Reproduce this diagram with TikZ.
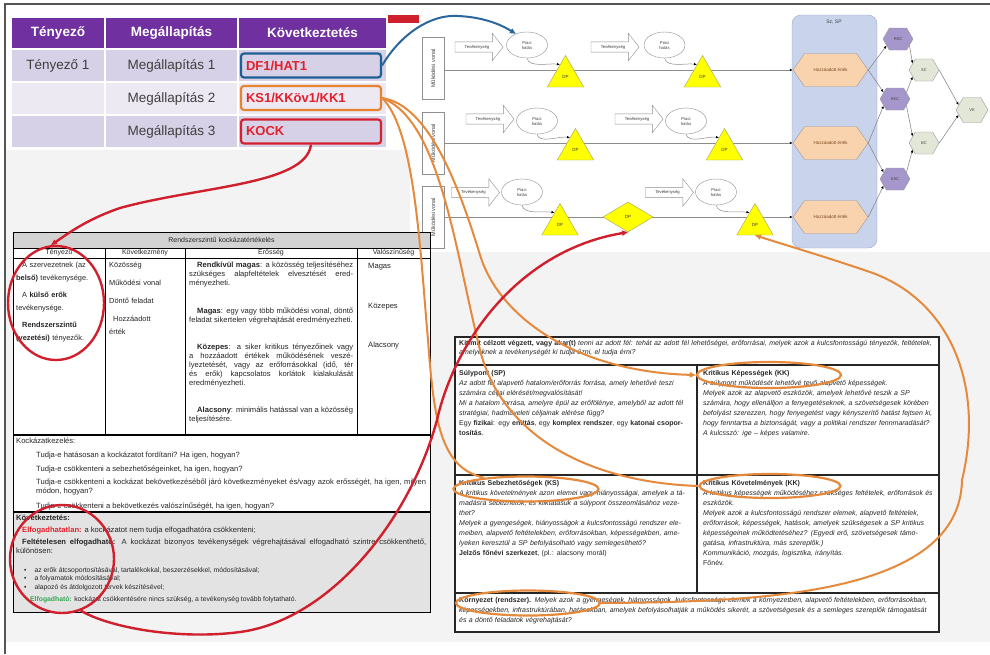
\documentclass[tikz,border=0pt]{standalone}
\usepackage{fontspec}
\setmainfont{Liberation Sans}
\usetikzlibrary{shapes.geometric,shapes.arrows,shapes.symbols,calc,arrows.meta}
\pgfdeclarelayer{paper}
\pgfdeclarelayer{wires}
\pgfsetlayers{paper,wires,main}

\definecolor{hdrpurple}{HTML}{7030A0}
\definecolor{rowdark}{HTML}{D6D1E6}
\definecolor{rowlight}{HTML}{ECE9F2}
\definecolor{txtgray}{HTML}{3F3F3F}
\definecolor{txtdark}{HTML}{262626}
\definecolor{boxblue}{HTML}{1F5F96}
\definecolor{boxorange}{HTML}{E5832F}
\definecolor{boxred}{HTML}{D42132}
\definecolor{txtred}{HTML}{E3202C}
\definecolor{annred}{HTML}{D0202E}
\definecolor{annorange}{HTML}{E58A3C}
\definecolor{annblue}{HTML}{2C679C}
\definecolor{panelblue}{HTML}{C9D3EC}
\definecolor{panelborder}{HTML}{9BA8CC}
\definecolor{peach}{HTML}{F8D3AE}
\definecolor{hexpurple}{HTML}{A596CB}
\definecolor{hexgreen}{HTML}{E3E7D8}
\definecolor{hexedge}{HTML}{9A9A9A}
\definecolor{dpyellow}{HTML}{FFFF00}
\definecolor{dpedge}{HTML}{A0A060}
\definecolor{linegray}{HTML}{8C8C8C}
\definecolor{arrowedge}{HTML}{8F8F8F}
\definecolor{slidegray}{HTML}{F3F3F3}
\definecolor{cellgray}{HTML}{E3E3E3}
\definecolor{titlegray}{HTML}{D3D3D3}
\definecolor{greentxt}{HTML}{2FA84F}
\definecolor{framegray}{HTML}{555555}
\definecolor{hextxt}{HTML}{7A4A20}

\newcommand{\fsz}[2]{\fontsize{#1}{#2}\selectfont}

\tikzset{
  headcell/.style={fill=hdrpurple, text=white, font=\fsz{13.5}{15}\bfseries, inner sep=0, minimum height=30pt},
  rowcell/.style={text=txtgray, font=\fsz{13.5}{15}, inner sep=0, minimum height=31pt},
  concl/.style={draw=#1, line width=2.2pt, rounded corners=3pt, minimum width=140pt, minimum height=24pt,
    text width=130pt, inner xsep=5pt, inner ysep=0pt, align=left, text=txtred, font=\fsz{13}{15}\bfseries},
  lanebox/.style={draw=arrowedge, fill=white, rotate=90, minimum width=62pt, minimum height=22pt,
    inner sep=0, font=\fsz{5.5}{6}, text=txtgray},
  actarrow/.style={single arrow, draw=arrowedge, fill=white, minimum height=48pt, single arrow head extend=8.5pt,
    single arrow tip angle=104, inner xsep=1pt, inner ysep=3pt, font=\fsz{4.2}{5}, text=txtgray},
  effect/.style={ellipse, draw=arrowedge, fill=white, minimum width=41pt, minimum height=26pt, inner sep=0,
    align=center, font=\fsz{4.2}{5}, text=txtgray},
  dptri/.style={regular polygon, regular polygon sides=3, draw=dpedge, fill=dpyellow, minimum size=42pt,
    inner sep=0, font=\fsz{4.5}{5}, text=txtgray},
  dpdia/.style={diamond, draw=dpedge, fill=dpyellow, minimum width=50pt, minimum height=30pt, inner sep=0,
    font=\fsz{4.5}{5}, text=txtgray},
  valhex/.style={signal, signal to=east and west, signal pointer angle=110, draw=hexedge, fill=peach,
    minimum width=75pt, minimum height=33pt, inner sep=1pt, font=\fsz{4.5}{5}, text=hextxt},
  smallhex/.style={signal, signal to=east and west, signal pointer angle=120, draw=hexedge, fill=#1,
    minimum width=30pt, minimum height=22pt, inner sep=0, font=\fsz{4}{5}, text=txtgray},
  panel/.style={rounded corners=9pt, fill=panelblue, draw=panelborder, minimum width=85pt, minimum height=233pt},
  laneline/.style={draw=linegray, line width=0.8pt, -{Latex[length=3pt,width=2.6pt,color=black]}},
  thinlink/.style={draw=linegray, line width=0.5pt, -{Latex[length=3pt,width=2.6pt,color=black]}},
  netlink/.style={draw=linegray, line width=0.6pt, -{Latex[length=3pt,width=2.6pt,color=black]}},
  tabtxt/.style={anchor=north west, inner sep=0, align=left, font=\fsz{7.6}{8.8}, text=txtdark},
  cellnote/.style={anchor=north west, inner sep=0, align=left, font=\fsz{7}{10}, text=txtdark},
  lineitem/.style={anchor=west, inner sep=0, font=\fsz{7.6}{8.8}, text=txtdark},
  oval/.style={ellipse, draw=annorange, line width=2.2pt, inner sep=0},
  redring/.style={ellipse, draw=annred, line width=2.4pt, inner sep=0},
  orarc/.style={draw=annorange, line width=2pt},
  redarc/.style={draw=annred, line width=2.4pt},
  bluearc/.style={draw=annblue, line width=2pt},
  annotip/.style={-{Triangle[length=6pt,width=5pt]}}
}

\begin{document}
\begin{tikzpicture}[x=1pt,y=-1pt]
\useasboundingbox (0,0) rectangle (990,654);

% ---------- paper and panel ----------
\begin{pgfonlayer}{paper}
  \fill[white] (0,0) rectangle (990,654);
  \fill[slidegray] (6,150) rectangle (410,252);
  \fill[slidegray] (6,252) rectangle (990,642);
  \node[panel] (SPpanel) at (834.5,131.5) {};
\end{pgfonlayer}
\draw[framegray, line width=2pt] (5,654) -- (5,4) -- (990,4);

% ---------- factor / finding / conclusion table ----------
\node[headcell, minimum width=92pt]  (hT) at (58,33)    {Tényező};
\node[headcell, minimum width=131pt] (hM) at (171.5,33) {Megállapítás};
\node[headcell, minimum width=147pt] (hK) at (312.5,33) {Következtetés};

\node[rowcell, fill=rowdark,  minimum width=92pt]  (r1a) at (58,65.5)    {Tényező 1};
\node[rowcell, fill=rowdark,  minimum width=131pt] (r1b) at (171.5,65.5) {Megállapítás 1};
\node[rowcell, fill=rowdark,  minimum width=147pt] (r1c) at (312.5,65.5) {};
\node[rowcell, fill=rowlight, minimum width=92pt]  (r2a) at (58,98.5)    {};
\node[rowcell, fill=rowlight, minimum width=131pt] (r2b) at (171.5,98.5) {Megállapítás 2};
\node[rowcell, fill=rowlight, minimum width=147pt] (r2c) at (312.5,98.5) {};
\node[rowcell, fill=rowdark,  minimum width=92pt]  (r3a) at (58,131.5)    {};
\node[rowcell, fill=rowdark,  minimum width=131pt] (r3b) at (171.5,131.5) {Megállapítás 3};
\node[rowcell, fill=rowdark,  minimum width=147pt] (r3c) at (312.5,131.5) {};

\node[concl=boxblue,   fill=rowdark]  (df)   at (311,65.5)  {DF1/HAT1};
\node[concl=boxorange, fill=rowlight] (ks)   at (311,98)    {KS1/KKöv1/KK1};
\node[concl=boxred,    fill=rowdark]  (kock) at (311,131.5) {KOCK};
\fill[annred] (388,15) rectangle (419,23);

% ---------- lines of operation ----------
\node[lanebox] (L1) at (433,68.5) {Működési vonal};
\node[lanebox] (L2) at (433,143)  {Működési vonal};
\node[lanebox] (L3) at (433,217)  {Működési vonal};

\node[valhex] (O1) at (830.5,70)  {Hozzáadott érték};
\node[valhex] (O2) at (830.5,143) {Hozzáadott érték};
\node[valhex] (O3) at (830.5,217) {Hozzáadott érték};
\node[font=\fsz{5}{6}, text=txtgray] (SPlabel) at (834,22) {Sz, SP};

\node[smallhex=hexpurple] (P1) at (898,39)  {RSC};
\node[smallhex=hexpurple] (P2) at (895,99)  {KKC};
\node[smallhex=hexpurple] (P3) at (895,179) {KSC};
\node[smallhex=hexgreen]  (G1) at (924,70)  {SC};
\node[smallhex=hexgreen]  (G2) at (924,143) {BC};
\node[smallhex=hexgreen, minimum width=32pt, minimum height=25pt] (VK) at (972,110) {VK};

% lane 1
\node[actarrow] (a11) at (477,47)    {Tevékenység};
\node[effect]   (e11) at (527,45)    {Piaci\\hatás};
\node[dptri]    (t11) at (565.5,76.5) {DP};
\node[actarrow] (a12) at (613,47)    {Tevékenység};
\node[effect]   (e12) at (664.5,45)  {Piaci\\hatás};
\node[dptri]    (t12) at (702.5,76.5) {DP};
% lane 2
\node[actarrow] (a21) at (488,119)   {Tevékenység};
\node[effect]   (e21) at (537,121)   {Piaci\\hatás};
\node[dptri]    (t21) at (575.5,149.5) {DP};
\node[actarrow] (a22) at (637,119)   {Tevékenység};
\node[effect]   (e22) at (686,121)   {Piaci\\hatás};
\node[dptri]    (t22) at (724.5,149.5) {DP};
% lane 3
\node[actarrow] (a31) at (473.5,192.5) {Tevékenység};
\node[effect]   (e31) at (522,192)   {Piaci\\hatás};
\node[dptri]    (t31) at (560,224.5) {DP};
\node[dpdia]    (dia) at (628,217)   {DP};
\node[actarrow] (a32) at (667.5,192.5) {Tevékenység};
\node[effect]   (e32) at (716,192)   {Piaci\\hatás};
\node[dptri]    (t32) at (755,224.5) {DP};

\begin{pgfonlayer}{wires}
  \draw[laneline] (L1.south |- O1.west) -- (O1.west);
  \draw[laneline] (L2.south |- O2.west) -- (O2.west);
  \draw[laneline] (L3.south |- O3.west) -- (O3.west);
\end{pgfonlayer}

\foreach \e/\t in {e11/t11,e12/t12,e21/t21,e22/t22,e31/t31,e32/t32}
  \draw[thinlink] (\e.south) .. controls +(2,10) and +(-10,-2) .. ($(\t.corner 1)!0.3!(\t.corner 2)$);

\draw[netlink] (O1.east) -- (P1.210);
\draw[netlink] (O1.east) -- (P2.150);
\draw[netlink] (O2.east) -- (P2.210);
\draw[netlink] (O2.east) -- (P3.150);
\draw[netlink] (O3.east) -- (P3.210);
\draw[netlink] (P1.330) -- (G1.150);
\draw[netlink] (P2.30)  -- (G1.210);
\draw[netlink] (P2.330) -- (G2.150);
\draw[netlink] (P3.30)  -- (G2.210);
\draw[netlink] (G1.east) -- (VK.160);
\draw[netlink] (G2.east) -- (VK.200);

% ---------- risk assessment sheet ----------
\fill[white] (13,232) rectangle (430,512);
\fill[titlegray] (13,232) rectangle (430,248);
\fill[cellgray] (13,512) rectangle (430,612);
\draw[black, line width=0.8pt] (13,232) rectangle (430,612);
\draw[black, line width=0.6pt] (13,248) -- (430,248) (13,258) -- (430,258);
\draw[black, line width=0.8pt] (105,248) -- (105,435) (185,248) -- (185,435) (357,248) -- (357,435);
\draw[black, line width=1.6pt] (13,435) -- (430,435) (13,512) -- (430,512);

\node[font=\fsz{7}{8}, text=txtdark] (rtitle) at (221.5,240) {Rendszerszintű kockázatértékelés};
\node[font=\fsz{7}{8}, text=txtdark] (rh1) at (59,253)    {Tényező};
\node[font=\fsz{7}{8}, text=txtdark] (rh2) at (145,253)   {Következmény};
\node[font=\fsz{7}{8}, text=txtdark] (rh3) at (271,253)   {Erősség};
\node[font=\fsz{7}{8}, text=txtdark] (rh4) at (393.5,253) {Valószínűség};

\node[tabtxt, text width=86pt, font=\fsz{7.4}{12.5}] (rc1) at (16,262)
  {\hspace*{6pt}A szervezetnek (az\\ \textbf{belső)} tevékenysége.\\[5pt]
   \hspace*{6pt}A \textbf{külső erők}\\ tevékenysége.\\[5pt]
   \hspace*{6pt}\textbf{Rendszerszintű}\\ \textbf{(vezetési)} tényezők.};
\node[tabtxt, text width=74pt, font=\fsz{7.4}{13}] (rc2) at (109,262)
  {Közösség\\[5pt] Működési vonal\\[5pt] Döntő feladat\\[5pt] \hspace*{4pt}Hozzáadott\\érték};
\node[tabtxt, text width=164pt, align=justify] (rc3) at (189,262)
  {\hspace*{8pt}\textbf{Rendkívül magas}: a közösség teljesítéséhez szükséges alapfeltételek elvesztését eredményezheti.\par\vspace{19pt}
   \hspace*{8pt}\textbf{Magas}: egy vagy több működési vonal, döntő feladat sikertelen végrehajtását eredményezheti.\par\vspace{19pt}
   \hspace*{8pt}\textbf{Közepes}: a siker kritikus tényezőinek vagy a hozzáadott értékek működésének veszélyeztetését, vagy az erőforrásokkal (idő, tér és erők) kapcsolatos korlátok kialakulását eredményezheti.\par\vspace{19pt}
   \hspace*{8pt}\textbf{Alacsony}: minimális hatással van a közösség teljesítésére.};
\node[lineitem] (rv1) at (368,267) {Magas};
\node[lineitem] (rv2) at (368,307) {Közepes};
\node[lineitem] (rv3) at (368,346) {Alacsony};

\node[lineitem] (kk0) at (16,441) {Kockázatkezelés:};
\node[lineitem] (kk1) at (36,455) {Tudja-e hatásosan a kockázatot fordítani? Ha igen, hogyan?};
\node[lineitem] (kk2) at (36,469) {Tudja-e csökkenteni a sebezhetőségeinket, ha igen, hogyan?};
\node[tabtxt, text width=390pt, align=justify] (kk3) at (36,479)
  {Tudja-e csökkenteni a kockázat bekövetkezéséből járó következményeket és/vagy azok erősségét, ha igen, milyen módon, hogyan?};
\node[lineitem] (kk4) at (36,506) {Tudja-e csökkenteni a bekövetkezés valószínűségét, ha igen, hogyan?};

\node[lineitem, font=\fsz{7.6}{8.8}\bfseries] (kv0) at (16,518) {Következtetés:};
\node[lineitem] (kv1) at (22,530) {\textcolor{txtred}{\textbf{Elfogadhatatlan:}} a kockázatot nem tudja elfogadhatóra csökkenteni;};
\node[tabtxt, text width=410pt, align=justify] (kv2) at (16,539)
  {\hspace*{6pt}\textbf{Feltételesen elfogadható:} A kockázat bizonyos tevékenységek végrehajtásával elfogadható szintre csökkenthető, különösen:};
\node[lineitem, font=\fsz{6.8}{7}] (kb1) at (24,571) {\textbullet\hspace{8pt}az erők átcsoportosításával, tartalékokkal, beszerzésekkel, módosításával;};
\node[lineitem, font=\fsz{6.8}{7}] (kb2) at (24,579) {\textbullet\hspace{8pt}a folyamatok módosításával;};
\node[lineitem, font=\fsz{6.8}{7}] (kb3) at (24,588) {\textbullet\hspace{8pt}alapozó és átdolgozott tervek készítésével;};
\node[lineitem, font=\fsz{6.8}{7}] (kb4) at (30,600) {\textcolor{greentxt}{\textbf{Elfogadható:}} kockázat csökkentésére nincs szükség, a tevékenység tovább folytatható.};

% ---------- centre of gravity analysis sheet ----------
\fill[white] (455,337) rectangle (939,632);
\draw[txtdark, line width=1.1pt] (455,337) rectangle (939,632);
\draw[txtdark, line width=1.1pt] (455,365) -- (939,365) (455,475) -- (939,475) (455,593) -- (939,593) (697,365) -- (697,593);

\node[cellnote, text width=476pt, font=\fsz{7}{9}] (q0) at (459,340)
  {\textbf{Kit/mit célzott végzett, vagy akar(t)} \textit{tenni az adott fél: tehát az adott fél lehetőségei, erőforrásai, melyek azok a kulcsfontosságú tényezők, feltételek, amelyeknek a tevékenységét ki tudja űzni, el tudja érni?}};
\node[cellnote, text width=232pt] (cSP) at (459,370)
  {\textbf{Súlypont (SP)}\\
   \textit{Az adott fél alapvető hatalom/erőforrás forrása, amely lehetővé teszi számára céljai elérését/megvalósítását!}\\
   \textit{Mi a hatalom forrása, amelyre épül az erőfölénye, amelyből az adott fél stratégiai, hadműveleti céljainak elérése függ?}\\
   Egy \textbf{fizikai}: egy \textbf{entitás}, egy \textbf{komplex rendszer}, egy \textbf{katonai csoportosítás}.};
\node[cellnote, text width=234pt] (cKK) at (703,370)
  {\textbf{Kritikus Képességek (KK)}\\
   \textit{A súlypont működését lehetővé tevő alapvető képességek.}\\
   \textit{Melyek azok az alapvető eszközök, amelyek lehetővé teszik a SP számára, hogy ellenálljon a fenyegetéseknek, a szövetségesek körében befolyást szerezzen, hogy fenyegetést vagy kényszerítő hatást fejtsen ki, hogy fenntartsa a biztonságát, vagy a politikai rendszer fennmaradását?}\\
   \textit{A kulcsszó: ige – képes valamire.}};
\node[cellnote, text width=232pt] (cKS) at (459,480)
  {\textbf{Kritikus Sebezhetőségek (KS)}\\
   \textit{A kritikus követelmények azon elemei vagy hiányosságai, amelyek a támadásra sebezhetők, és kiiktatásuk a súlypont összeomlásához vezethet?}\\
   \textit{Melyek a gyengeségek, hiányosságok a kulcsfontosságú rendszer elemeiben, alapvető feltételekben, erőforrásokban, képességekben, amelyeken keresztül a SP befolyásolható vagy semlegesíthető?}\\
   \textbf{Jelzős főnévi szerkezet}, (pl.: alacsony morál)};
\node[cellnote, text width=234pt] (cKKv) at (703,480)
  {\textbf{Kritikus Követelmények (KK)}\\
   \textit{A kritikus képességek működéséhez szükséges feltételek, erőforrások és eszközök.}\\
   \textit{Melyek azok a kulcsfontosságú rendszer elemek, alapvető feltételek, erőforrások, képességek, hatások, amelyek szükségesek a SP kritikus képességeinek működtetéséhez? (Egyedi erő, szövetségesek támogatása, infrastruktúra, más szereplők.)}\\
   \textit{Kommunikáció, mozgás, logisztika, irányítás.}\\
   Főnév.};
\node[cellnote, text width=476pt] (cKZ) at (459,597)
  {\textbf{Környezet (rendszer).} \textit{Melyek azok a gyengeségek, hiányosságok, kulcsfontosságú elemek a környezetben, alapvető feltételekben, erőforrásokban, képességekben, infrastruktúrában, hatásokban, amelyek befolyásolhatják a működés sikerét, a szövetségesek és a semleges szereplők támogatását és a döntő feladatok végrehajtását?}};

% ---------- annotation rings ----------
\node[oval, minimum width=144pt, minimum height=26pt] (okk) at (769,375) {};
\node[oval, minimum width=145pt, minimum height=25pt] (oks) at (526,489) {};
\node[oval, minimum width=141pt, minimum height=24pt] (okv) at (770,486) {};
\node[oval, minimum width=144pt, minimum height=25pt] (okz) at (528,603) {};
\node[redring, minimum width=96pt, minimum height=114pt] (c1) at (56,303) {};
\node[redring, minimum width=104pt, minimum height=108pt] (c2) at (62,559) {};

% ---------- annotation arcs ----------
\draw[bluearc, annotip] (df.east) .. controls (400,35) and (430,14) .. (458,16)
  .. controls (482,17) and (500,24) .. (e11.135);

\draw[orarc] (ks.east) .. controls (415,130) and (420,250) .. (428,340)
  .. controls (434,420) and (440,468) .. (oks.165);
\draw[orarc] (ks.east) .. controls (440,120) and (455,250) .. (480,350)
  .. controls (500,430) and (580,482) .. (okv.west);
\draw[orarc, annotip] (ks.east) .. controls (430,105) and (460,190) .. (480,255)
  .. controls (500,320) and (580,372) .. (okk.west);
\draw[orarc, annotip] (okz.east) .. controls (760,602) and (960,595) .. (962,480)
  .. controls (985,385) and (950,300) .. (870,272)
  .. controls (820,255) and (785,245) .. (t32.south);

\draw[redarc, annotip] (kock.south) .. controls (306,185) and (200,186) .. (120,208)
  .. controls (85,220) and (66,235) .. (c1.95);
\draw[redarc, annotip] (c2.290) .. controls (110,628) and (180,640) .. (240,632)
  .. controls (330,620) and (410,520) .. (437,420)
  .. controls (455,340) and (520,250) .. (dia.south);

\end{tikzpicture}
\end{document}
